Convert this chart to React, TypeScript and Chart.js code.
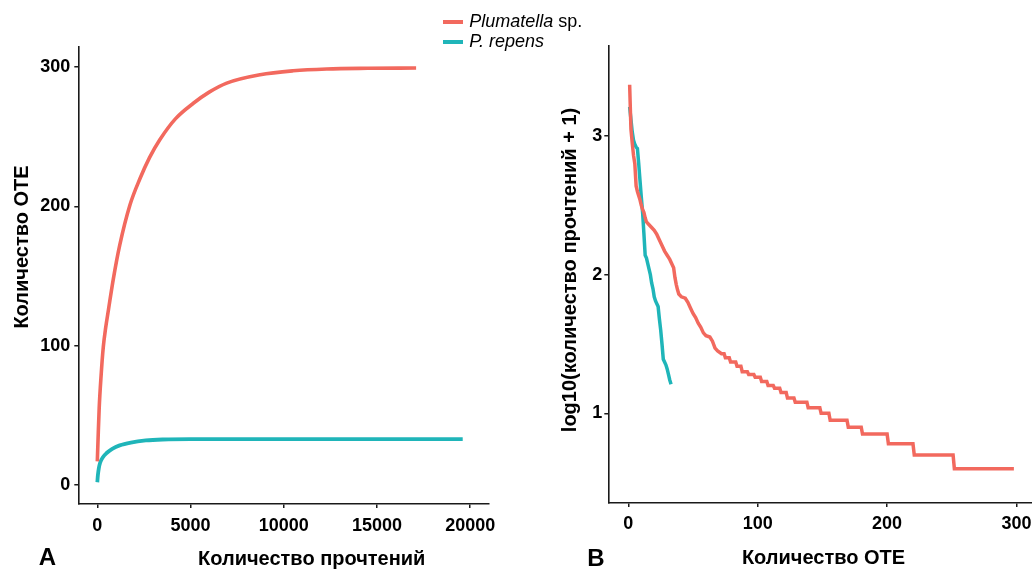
import React, { useEffect, useRef } from "react";
import { Chart, registerables } from "chart.js";

Chart.register(...registerables);

// ---------- Data ----------
// Panel A: rarefaction curves (reads -> OTUs)
const redReadsA = [0, 40, 100, 200, 320, 450, 600, 860, 1200, 1750, 2290, 2800, 3360, 4200, 5150, 6000, 6940, 8730, 10500, 12300, 14500, 17100];
const redOtusA = [17, 33, 55, 78, 99, 113, 126, 148, 172, 201, 220, 235, 248, 263, 274, 282, 288.5, 294.5, 297.3, 298.6, 299.1, 299.3];
const tealReadsA = [0, 30, 80, 150, 300, 500, 800, 1200, 1800, 2600, 3500, 5000, 10000, 15000, 19600];
const tealOtusA = [2, 7, 12, 16, 20, 23, 26, 28.5, 30.5, 32, 32.7, 33, 33, 33, 33];

// Panel B: rank-abundance (rank -> log10(reads + 1))
const redRankB = [1, 2, 3, 4, 5, 6, 7, 8, 9, 10, 11, 12, 13, 14, 16, 18, 20, 22, 24, 26, 28, 30, 32, 34, 35, 36, 37, 38, 39, 41, 44, 46, 48, 50, 52, 54, 56, 58, 60, 63, 65, 67, 69, 72, 74, 75, 78, 79, 83, 84, 87, 88, 92, 93, 97, 98, 102, 103, 107, 108, 112, 113, 117, 118, 122, 123, 128, 129, 138, 139, 148, 149, 155, 156, 169, 170, 180, 181, 200, 201, 220, 221, 251, 252, 298];
const redLogB = [3.37, 3.05, 2.95, 2.86, 2.80, 2.64, 2.60, 2.57, 2.54, 2.50, 2.47, 2.45, 2.41, 2.38, 2.36, 2.34, 2.32, 2.29, 2.25, 2.21, 2.17, 2.14, 2.11, 2.07, 2.05, 1.98, 1.93, 1.89, 1.86, 1.84, 1.83, 1.80, 1.76, 1.72, 1.69, 1.65, 1.62, 1.58, 1.56, 1.55, 1.52, 1.47, 1.45, 1.43, 1.43, 1.40, 1.40, 1.37, 1.37, 1.34, 1.34, 1.30, 1.30, 1.28, 1.28, 1.26, 1.26, 1.23, 1.23, 1.20, 1.20, 1.18, 1.18, 1.15, 1.15, 1.11, 1.11, 1.08, 1.08, 1.04, 1.04, 1.00, 1.00, 0.95, 0.95, 0.90, 0.90, 0.85, 0.85, 0.78, 0.78, 0.70, 0.70, 0.60, 0.60];
const tealRankB = [1, 2, 3, 4, 5, 6, 7, 8, 9, 10, 11, 12, 13, 14, 15, 16, 17, 18, 19, 20, 21, 22, 23, 24, 25, 26, 27, 28, 29, 30, 31, 32, 33];
const tealLogB = [3.21, 3.12, 3.03, 2.97, 2.94, 2.92, 2.91, 2.80, 2.68, 2.56, 2.45, 2.30, 2.14, 2.12, 2.08, 2.04, 2.00, 1.94, 1.90, 1.84, 1.81, 1.79, 1.77, 1.68, 1.60, 1.50, 1.39, 1.37, 1.35, 1.32, 1.28, 1.24, 1.21];

// Tick labels
const xTicksA = [0, 5000, 10000, 15000, 20000];
const yTicksA = [0, 100, 200, 300];
const xTicksB = [0, 100, 200, 300];
const yTicksB = [1, 2, 3];

// Labels
const seriesNames = ["Plumatella", "P. repens"];
const xTitleA = "Количество прочтений";
const yTitleA = "Количество ОТЕ";
const xTitleB = "Количество ОТЕ";
const yTitleB = "log10(количество прочтений + 1)";

const RED = "#F2695E";
const TEAL = "#1FB5B9";
const AXIS = "#1a1a1a";
const FAMILY = "'Liberation Sans', Arial, Helvetica, sans-serif";

type TextItem = { text: string; x: number; y: number; size: number; rotate?: boolean };

function textPlugin(items: TextItem[]) {
  return {
    id: "customText",
    afterDraw(chart: any) {
      const ctx = chart.ctx as CanvasRenderingContext2D;
      items.forEach((it) => {
        ctx.save();
        ctx.font = `bold ${it.size}px ${FAMILY}`;
        ctx.fillStyle = "#000";
        ctx.textAlign = "center";
        ctx.textBaseline = "alphabetic";
        ctx.translate(it.x, it.y);
        if (it.rotate) ctx.rotate(-Math.PI / 2);
        ctx.fillText(it.text, 0, 0);
        ctx.restore();
      });
    },
  };
}

function axisCommon(ticks: number[], min: number, max: number, padding: number) {
  return {
    type: "linear" as const,
    min,
    max,
    afterBuildTicks: (s: any) => {
      s.ticks = ticks.map((v) => ({ value: v }));
    },
    ticks: {
      color: "#000",
      font: { family: FAMILY, size: 18, weight: "bold" as const },
      padding,
      maxRotation: 0,
      autoSkip: false,
      callback: (v: any) => String(v),
    },
    grid: {
      drawOnChartArea: false,
      drawTicks: true,
      tickLength: 4,
      color: AXIS,
      lineWidth: 1.5,
    },
    border: { display: true, color: AXIS, width: 1.6 },
    title: { display: false },
  };
}

function fixH(h: number) {
  return (s: any) => {
    s.height = h;
    s.paddingLeft = 0;
    s.paddingRight = 0;
  };
}
function fixW(w: number) {
  return (s: any) => {
    s.width = w;
    s.paddingTop = 0;
    s.paddingBottom = 0;
  };
}

export default function App() {
  const refA = useRef<HTMLCanvasElement>(null);
  const refB = useRef<HTMLCanvasElement>(null);

  useEffect(() => {
    Chart.defaults.font.family = FAMILY;

    const chartA = new Chart(refA.current!, {
      type: "line",
      data: {
        datasets: [
          {
            label: seriesNames[0],
            data: redReadsA.map((x, i) => ({ x, y: redOtusA[i] })),
            borderColor: RED,
            borderWidth: 3.6,
            pointRadius: 0,
            cubicInterpolationMode: "monotone",
            fill: false,
          },
          {
            label: seriesNames[1],
            data: tealReadsA.map((x, i) => ({ x, y: tealOtusA[i] })),
            borderColor: TEAL,
            borderWidth: 3.8,
            pointRadius: 0,
            cubicInterpolationMode: "monotone",
            fill: false,
          },
        ],
      },
      options: {
        responsive: false,
        animation: false,
        layout: { padding: { left: 0, top: 47, right: 27, bottom: 0 } },
        plugins: { legend: { display: false }, tooltip: { enabled: false } },
        scales: {
          x: {
            ...axisCommon(xTicksA, -1020, 21010, 7),
            afterFit: fixH(65),
          },
          y: {
            ...axisCommon(yTicksA, -13.6, 314.4, 4),
            afterFit: fixW(78.3),
          },
        },
      },
      plugins: [
        textPlugin([
          { text: yTitleA, x: 28, y: 247, size: 20, rotate: true },
          { text: xTitleA, x: 311.7, y: 565, size: 20 },
          { text: "A", x: 47.5, y: 565, size: 24 },
        ]),
      ],
    } as any);

    const chartB = new Chart(refB.current!, {
      type: "line",
      data: {
        datasets: [
          {
            label: seriesNames[0],
            data: redRankB.map((x, i) => ({ x, y: redLogB[i] })),
            borderColor: RED,
            borderWidth: 3.5,
            pointRadius: 0,
            tension: 0,
            fill: false,
          },
          {
            label: seriesNames[1],
            data: tealRankB.map((x, i) => ({ x, y: tealLogB[i] })),
            borderColor: TEAL,
            borderWidth: 3.5,
            pointRadius: 0,
            tension: 0,
            fill: false,
          },
        ],
      },
      options: {
        responsive: false,
        animation: false,
        layout: { padding: { left: 0, top: 46, right: 0, bottom: 0 } },
        plugins: { legend: { display: false }, tooltip: { enabled: false } },
        scales: {
          x: {
            ...axisCommon(xTicksB, -15.5, 312, 6),
            afterFit: fixH(66),
          },
          y: {
            ...axisCommon(yTicksB, 0.353, 3.649, 2),
            afterFit: fixW(92.3),
          },
        },
      },
      plugins: [
        textPlugin([
          { text: yTitleB, x: 60, y: 270, size: 20, rotate: true },
          { text: xTitleB, x: 307.5, y: 564, size: 20 },
          { text: "B", x: 80, y: 566, size: 24 },
        ]),
      ],
    } as any);

    return () => {
      chartA.destroy();
      chartB.destroy();
    };
  }, []);

  const legendText: React.CSSProperties = {
    position: "absolute",
    fontFamily: FAMILY,
    fontSize: 18,
    lineHeight: "18px",
    color: "#000",
    whiteSpace: "nowrap",
  };

  return (
    <div
      style={{
        position: "fixed",
        left: 0,
        top: 0,
        width: 1032,
        height: 569,
        background: "#fff",
        overflow: "hidden",
      }}
    >
      <canvas ref={refA} width={516} height={569} style={{ position: "absolute", left: 0, top: 0 }} />
      <canvas ref={refB} width={516} height={569} style={{ position: "absolute", left: 516, top: 0 }} />
      <div style={{ position: "absolute", left: 443.3, top: 20.3, width: 19.4, height: 4, background: RED }} />
      <div style={{ position: "absolute", left: 443.3, top: 39.7, width: 19.4, height: 4, background: TEAL }} />
      <div style={{ ...legendText, left: 469.3, top: 12 }}>
        <i>{seriesNames[0]}</i> sp.
      </div>
      <div style={{ ...legendText, left: 469.3, top: 32 }}>
        <i>{seriesNames[1]}</i>
      </div>
    </div>
  );
}
